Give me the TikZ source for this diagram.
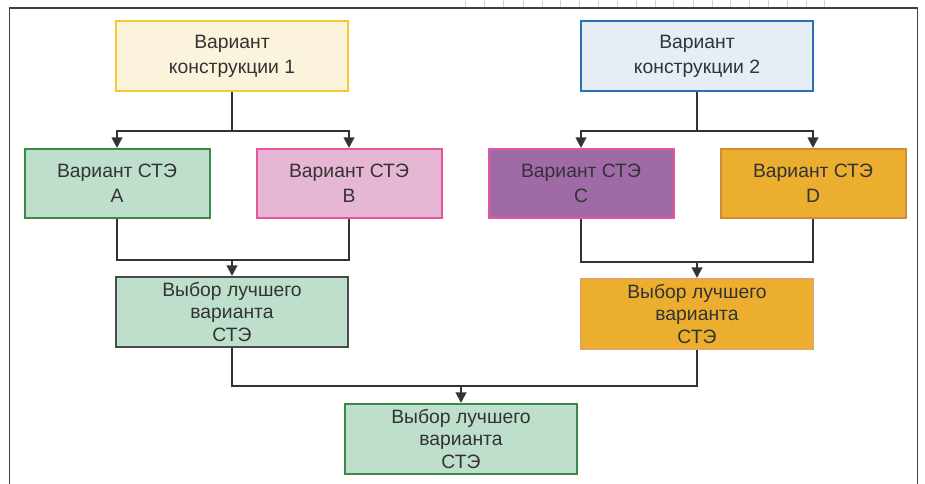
\documentclass[tikz,border=0pt]{standalone}
\usepackage{fontspec}
\setmainfont{Liberation Sans}
\usetikzlibrary{arrows.meta}
\definecolor{txt}{HTML}{333333}
\definecolor{creamfill}{HTML}{FCF3DC}
\definecolor{creamline}{HTML}{F6C930}
\definecolor{bluefill}{HTML}{E5EEF5}
\definecolor{blueline}{HTML}{2E6DB4}
\definecolor{greenfill}{HTML}{BEDFCB}
\definecolor{greenline}{HTML}{3A8A45}
\definecolor{pinkfill}{HTML}{E6B7D5}
\definecolor{pinkline}{HTML}{E8559F}
\definecolor{purplefill}{HTML}{A06AA7}
\definecolor{orangefill}{HTML}{ECAE2E}
\definecolor{orangeline}{HTML}{D4893A}
\definecolor{orangelight}{HTML}{E6A35A}
\definecolor{gridblue}{HTML}{B3DDF2}
\begin{document}
\begin{tikzpicture}[x=0.75pt,y=-0.75pt,
    box/.style={draw,line width=1.5pt,inner sep=0pt,align=center,
      text=txt,font=\fontsize{14.5}{18.75}\selectfont},
    bigbox/.style={box,minimum width=174pt,minimum height=52.5pt},
    stebox/.style={box,minimum width=138.75pt,minimum height=51.75pt},
    pickbox/.style={bigbox,font=\fontsize{14.5}{17}\selectfont},
    line/.style={draw=txt,line width=1.5pt},
    arrow/.style={line,-{Triangle[width=8pt,length=8pt]}}]
  \useasboundingbox (0,0) rectangle (925,484);
  % background
  \foreach \x in {465,484,503,523,542,560,579,598,617,636,655,673,693,712,730,749,768,787,806,824}
    \draw[gridblue,line width=0.6pt] (\x,0) -- (\x,7);
  \draw[black!75,line width=1.1pt] (9.5,490) -- (9.5,8) -- (917.5,8) -- (917.5,490);
  % boxes
  \node[bigbox,fill=creamfill,draw=creamline] (k1) at (232,56) {Вариант\\конструкции 1};
  \node[bigbox,fill=bluefill,draw=blueline] (k2) at (697,56) {Вариант\\конструкции 2};
  \node[stebox,fill=greenfill,draw=greenline] (a) at (117,183.5) {Вариант СТЭ\\A};
  \node[stebox,fill=pinkfill,draw=pinkline] (b) at (349,183.5) {Вариант СТЭ\\B};
  \node[stebox,fill=purplefill,draw=pinkline] (c) at (581,183.5) {Вариант СТЭ\\C};
  \node[stebox,fill=orangefill,draw=orangeline] (d) at (813,183.5) {Вариант СТЭ\\D};
  \node[pickbox,fill=greenfill,draw=black!70] (s1) at (232,312) {Выбор лучшего\\варианта\\СТЭ};
  \node[pickbox,fill=orangefill,draw=orangelight] (s2) at (697,314) {Выбор лучшего\\варианта\\СТЭ};
  \node[pickbox,fill=greenfill,draw=greenline] (s3) at (461,439) {Выбор лучшего\\варианта\\СТЭ};
  % connectors
  \coordinate (j1) at (232,131);
  \coordinate (j2) at (697,131);
  \coordinate (m1) at (232,260);
  \coordinate (m2) at (697,262);
  \coordinate (m3) at (461,386);
  \draw[line] (k1) -- (j1);
  \draw[arrow] (j1) -| (a);
  \draw[arrow] (j1) -| (b);
  \draw[line] (k2) -- (j2);
  \draw[arrow] (j2) -| (c);
  \draw[arrow] (j2) -| (d);
  \draw[line] (a) |- (m1) -| (b);
  \draw[arrow] (m1) -- (s1);
  \draw[line] (c) |- (m2) -| (d);
  \draw[arrow] (m2) -- (s2);
  \draw[line] (s1) |- (m3) -| (s2);
  \draw[arrow] (m3) -- (s3);
\end{tikzpicture}
\end{document}
